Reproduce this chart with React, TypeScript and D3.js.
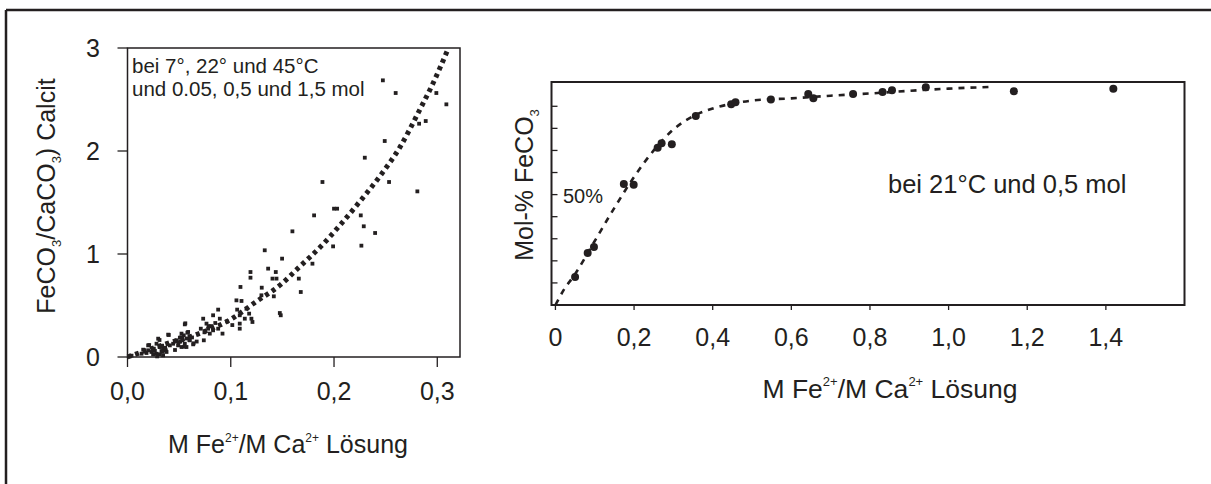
import React from 'react'
import * as d3 from 'd3'

// left panel: FeCO3/CaCO3 in calcite vs Fe/Ca in solution
const leftPoints: [number, number][] = [
  [0.2473, 2.686], [0.2597, 2.563], [0.3088, 2.453], [0.2991, 2.563], [0.2888, 2.291],
  [0.2824, 2.265], [0.2491, 2.097], [0.2298, 1.935], [0.2533, 1.699], [0.2807, 1.608],
  [0.1888, 1.699], [0.2, 1.44], [0.203, 1.44], [0.1807, 1.375], [0.2259, 1.375],
  [0.2288, 1.269], [0.2398, 1.204], [0.1597, 1.22], [0.1991, 1.074], [0.2265, 1.081],
  [0.1329, 1.036], [0.1497, 0.955], [0.1791, 0.906], [0.1362, 0.858], [0.1191, 0.825],
  [0.1191, 0.77], [0.1436, 0.825], [0.1404, 0.761], [0.1443, 0.761], [0.1659, 0.761],
  [0.1678, 0.631], [0.1094, 0.68], [0.13, 0.673], [0.1297, 0.599], [0.1417, 0.589],
  [0.1055, 0.55], [0.1104, 0.544], [0.1475, 0.427], [0.1484, 0.405], [0.1062, 0.46],
  [0.1087, 0.405], [0.1152, 0.469], [0.1178, 0.421], [0.1136, 0.372], [0.12, 0.372],
  [0.121, 0.34], [0.1087, 0.324], [0.1087, 0.275], [0.0878, 0.46], [0.0829, 0.405],
  [0.0894, 0.372], [0.092, 0.227], [0.0878, 0.275], [0.0733, 0.372], [0.0765, 0.324],
  [0.0781, 0.275], [0.0739, 0.162], [0.0797, 0.227], [0.0829, 0.259], [0.071, 0.275],
  [0.0555, 0.317], [0.0523, 0.227], [0.0587, 0.243], [0.0603, 0.162], [0.0636, 0.123],
  [0.0507, 0.188], [0.0532, 0.162], [0.0555, 0.129], [0.0474, 0.162], [0.0442, 0.129],
  [0.041, 0.113], [0.049, 0.113], [0.0523, 0.097], [0.0571, 0.097], [0.0394, 0.217],
  [0.0297, 0.178], [0.0281, 0.129], [0.0313, 0.097], [0.0345, 0.081], [0.0371, 0.065],
  [0.0255, 0.081], [0.0232, 0.049], [0.0281, 0.032], [0.0313, 0.026], [0.0329, 0.058],
  [0.02, 0.113], [0.02, 0.065], [0.0152, 0.071], [0.0136, 0.032], [0.0039, 0.013],
  [0.0287, 0.006], [0.0345, 0.016], [0.0378, 0.049], [0.0248, 0.026], [0.0184, 0.039],
  [0.021, 0.116], [0.031, 0.165], [0.031, 0.1], [0.034, 0.05], [0.04, 0.214],
  [0.046, 0.068], [0.051, 0.149], [0.052, 0.19], [0.056, 0.327], [0.055, 0.1],
  [0.06, 0.165], [0.064, 0.133], [0.058, 0.236], [0.0601, 0.2], [0.067, 0.15],
  [0.081, 0.3], [0.085, 0.33], [0.0965, 0.345], [0.1015, 0.31], [0.0545, 0.21],
  [0.0575, 0.18], [0.0495, 0.14], [0.0335, 0.11], [0.0365, 0.09], [0.0265, 0.06],
  [0.0625, 0.19], [0.0785, 0.3], [0.0745, 0.24]
]

const leftCurve: [number, number][] = [
  [0, 0], [0.038, 0.13], [0.07, 0.23], [0.099, 0.36], [0.125, 0.54], [0.148, 0.7],
  [0.167, 0.88], [0.186, 1.06], [0.205, 1.27], [0.225, 1.51], [0.244, 1.75],
  [0.264, 2.04], [0.283, 2.4], [0.296, 2.66], [0.31, 2.98]
]

const leftXTicks = [0, 0.1, 0.2, 0.3]
const leftXLabels = ['0,0', '0,1', '0,2', '0,3']
const leftYTicks = [0, 1, 2, 3]

// right panel: Mol-% FeCO3 at 21°C
const rightPoints: [number, number][] = [
  [0.05, 12.7], [0.082, 23.6], [0.098, 26.3], [0.174, 54.8], [0.199, 54.5],
  [0.26, 71.2], [0.27, 73.3], [0.296, 72.8], [0.357, 85.6], [0.447, 90.9],
  [0.458, 91.8], [0.548, 93.1], [0.643, 95.6], [0.656, 93.6], [0.757, 95.6],
  [0.832, 96.5], [0.856, 97.3], [0.942, 98.6], [1.166, 96.8], [1.419, 97.9]
]

const rightCurve: [number, number][] = [
  [0, 0], [0.02, 6.5], [0.05, 14], [0.1, 29], [0.15, 44], [0.2, 58], [0.25, 70],
  [0.3, 79.5], [0.35, 85.5], [0.4, 89], [0.45, 91.2], [0.5, 92.6], [0.6, 93.6],
  [0.7, 94.8], [0.8, 95.8], [0.9, 97], [1.0, 98], [1.11, 98.8]
]

const rightXTicks = [0, 0.2, 0.4, 0.6, 0.8, 1.0, 1.2, 1.4]
const rightXLabels = ['0', '0,2', '0,4', '0,6', '0,8', '1,0', '1,2', '1,4']
const rightYTicks = [10, 20, 30, 40, 50, 60, 70, 80, 90]

const ink = '#231f20'
const font = '"Liberation Sans", Arial, sans-serif'

export default function App() {
  const lx = d3.scaleLinear().domain([0, 0.322]).range([127.5, 460])
  const ly = d3.scaleLinear().domain([0, 3]).range([357, 48])

  const rx = d3.scaleLinear().domain([-0.01, 1.6]).range([551.5, 1184.5])
  const ry = d3.scaleLinear().domain([0, 101]).range([305, 82])

  const leftLine = d3.line<[number, number]>()
    .x(d => lx(d[0]))
    .y(d => ly(d[1]))
    .curve(d3.curveMonotoneX)

  const rightLine = d3.line<[number, number]>()
    .x(d => rx(d[0]))
    .y(d => ry(d[1]))
    .curve(d3.curveMonotoneX)

  const [lx0, lx1] = lx.range()
  const [ly0, ly1] = ly.range()
  const [rx0, rx1] = rx.range()
  const [ry0, ry1] = ry.range()

  return (
    <svg width={1211} height={484} style={{ position: 'absolute', left: 0, top: 0, background: '#fff' }}
      fontFamily={font} fill={ink}>
      {/* cropped outer frame */}
      <line x1={6} y1={10} x2={1211} y2={10} stroke={ink} strokeWidth={2.5} />
      <line x1={6} y1={10} x2={6} y2={484} stroke={ink} strokeWidth={2.5} />

      {/* ---------- left panel ---------- */}
      <rect x={lx0} y={ly1} width={lx1 - lx0} height={ly0 - ly1} fill="none" stroke={ink} strokeWidth={1.5} />
      {leftYTicks.map(t => (
        <g key={t}>
          <line x1={lx0 - 10} x2={lx0} y1={ly(t)} y2={ly(t)} stroke={ink} strokeWidth={1.3} />
          <text x={100} y={ly(t)} dy="0.36em" textAnchor="end" fontSize={25}>{t}</text>
        </g>
      ))}
      {leftXTicks.map((t, i) => (
        <g key={t}>
          <line x1={lx(t)} x2={lx(t)} y1={ly0} y2={ly0 + 10} stroke={ink} strokeWidth={1.3} />
          <text x={lx(t)} y={400} textAnchor="middle" fontSize={25}>{leftXLabels[i]}</text>
        </g>
      ))}
      {leftPoints.map((p, i) => (
        <rect key={i} x={lx(p[0]) - 1.9} y={ly(p[1]) - 1.9} width={3.8} height={3.8} fill={ink} />
      ))}
      <path d={leftLine(leftCurve) || ''} fill="none" stroke={ink} strokeWidth={5}
        strokeDasharray="4 4" />
      <text x={132} y={73} fontSize={20.5}>bei 7°, 22° und 45°C</text>
      <text x={132} y={96} fontSize={20.5}>und 0.05, 0,5 und 1,5 mol</text>
      <text x={288} y={453} textAnchor="middle" fontSize={25}>
        M Fe<tspan fontSize={12} dy={-11}>2+</tspan><tspan dy={11}>/M Ca</tspan>
        <tspan fontSize={12} dy={-11}>2+</tspan><tspan dy={11}> Lösung</tspan>
      </text>
      <text transform="translate(55,196) rotate(-90)" textAnchor="middle" fontSize={25}>
        FeCO<tspan fontSize={13} dy={6}>3</tspan><tspan dy={-6}>/CaCO</tspan>
        <tspan fontSize={13} dy={6}>3</tspan><tspan dy={-6}>) Calcit</tspan>
      </text>

      {/* ---------- right panel ---------- */}
      <rect x={rx0} y={ry1} width={rx1 - rx0} height={ry0 - ry1} fill="none" stroke={ink} strokeWidth={2} />
      {rightYTicks.map(t => (
        <line key={t} x1={rx0} x2={rx0 + 6} y1={ry(t)} y2={ry(t)} stroke={ink} strokeWidth={1.3} />
      ))}
      {rightXTicks.map((t, i) => (
        <g key={t}>
          <line x1={rx(t)} x2={rx(t)} y1={ry0} y2={ry0 + 5} stroke={ink} strokeWidth={1.3} />
          <text x={rx(t)} y={346} textAnchor="middle" fontSize={25}>{rightXLabels[i]}</text>
        </g>
      ))}
      <path d={rightLine(rightCurve) || ''} fill="none" stroke={ink} strokeWidth={2.6}
        strokeDasharray="6 6" />
      {rightPoints.map((p, i) => (
        <circle key={i} cx={rx(p[0])} cy={ry(p[1])} r={4} fill={ink} />
      ))}
      <text x={563} y={203} fontSize={20}>50%</text>
      <text x={888} y={193} fontSize={25.5}>bei 21°C und 0,5 mol</text>
      <text x={890} y={398} textAnchor="middle" fontSize={26.5}>
        M Fe<tspan fontSize={13} dy={-12}>2+</tspan><tspan dy={12}>/M Ca</tspan>
        <tspan fontSize={13} dy={-12}>2+</tspan><tspan dy={12}> Lösung</tspan>
      </text>
      <text transform="translate(533,185) rotate(-90)" textAnchor="middle" fontSize={25}>
        Mol-% FeCO<tspan fontSize={13} dy={6}>3</tspan>
      </text>
    </svg>
  )
}
